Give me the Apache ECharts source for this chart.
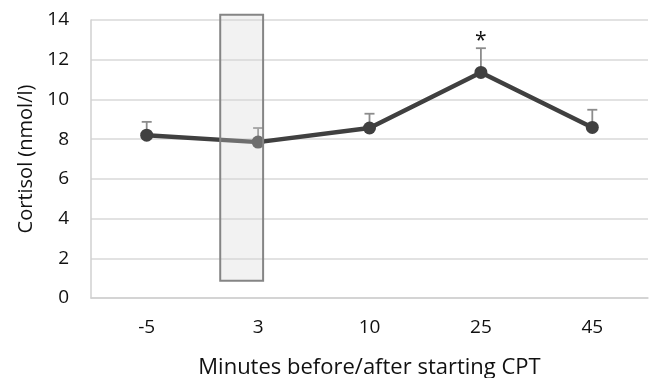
<!DOCTYPE html>
<html>
<head>
<meta charset="utf-8">
<script src="https://cdn.jsdelivr.net/npm/echarts@6/dist/echarts.min.js"></script>
<style>html,body{margin:0;padding:0;background:#fff;}#c{width:649px;height:378px;}</style>
</head>
<body>
<div id="c"></div>
<script>
const categories = ['-5', '3', '10', '25', '45'];
const cortisolMean = [8.2, 7.85, 8.56, 11.36, 8.59];
const cortisolErrTop = [8.87, 8.56, 9.28, 12.58, 9.48];
const sigMarks = ['', '', '', '*', ''];
const yTicks = { min: 0, max: 14, interval: 2 };
// shaded CPT window: [xStart, xEnd] in category band units, [yBottom, yTop] in nmol/l
const cptWindow = [[1.16, 1.545, 0.87, 14.27]];

const font = 'Open Sans';
const chart = echarts.init(document.getElementById('c'));
chart.setOption({
  animation: false,
  grid: { left: 91, right: 1, top: 20, bottom: 80, containLabel: false, outerBoundsMode: 'none' },
  xAxis: [{
    type: 'category', data: categories, boundaryGap: true,
    name: 'Minutes before/after starting CPT', nameLocation: 'middle', nameGap: 59,
    nameTextStyle: { fontFamily: font, fontSize: 22, color: '#111' },
    axisLine: { lineStyle: { color: '#d0d0d0', width: 1.5 } },
    axisTick: { show: false },
    axisLabel: { fontFamily: font, fontSize: 19, color: '#111', margin: 20 }
  }, {
    type: 'value', min: 0, max: 5, show: false
  }],
  yAxis: {
    type: 'value', min: yTicks.min, max: yTicks.max, interval: yTicks.interval,
    name: 'Cortisol (nmol/l)', nameLocation: 'middle', nameGap: 54,
    nameTextStyle: { fontFamily: font, fontSize: 20, color: '#111' },
    axisLine: { show: true, lineStyle: { color: '#d0d0d0', width: 1.5 } },
    axisTick: { show: false },
    splitLine: { lineStyle: { color: '#d9d9d9', width: 1.5 } },
    axisLabel: { fontFamily: font, fontSize: 19, color: '#111', margin: 22 }
  },
  series: [{
    type: 'custom', z: 1,
    data: cortisolMean.map((m, i) => [i, m, cortisolErrTop[i]]),
    renderItem: function (params, api) {
      const i = api.value(0);
      const p0 = api.coord([i, api.value(1)]);
      const p1 = api.coord([i, api.value(2)]);
      const children = [
        { type: 'line', shape: { x1: p0[0], y1: p0[1], x2: p1[0], y2: p1[1] }, style: { stroke: '#8c8c8c', lineWidth: 1.8 } },
        { type: 'line', shape: { x1: p1[0] - 5, y1: p1[1], x2: p1[0] + 5, y2: p1[1] }, style: { stroke: '#8c8c8c', lineWidth: 1.8 } }
      ];
      const s = sigMarks[i];
      if (s) {
        children.push({ type: 'text', style: { text: s, x: p1[0], y: p1[1] - 7, align: 'center', verticalAlign: 'middle', fontSize: 21, fontFamily: font, fill: '#111' } });
      }
      return { type: 'group', children: children };
    }
  }, {
    type: 'line', z: 2, data: cortisolMean,
    symbol: 'circle', symbolSize: 13,
    lineStyle: { color: '#404040', width: 4.5 },
    itemStyle: { color: '#404040' }
  }, {
    type: 'custom', z: 5, xAxisIndex: 1,
    data: cptWindow,
    renderItem: function (params, api) {
      const a = api.coord([api.value(0), api.value(3)]);
      const b = api.coord([api.value(1), api.value(2)]);
      return { type: 'rect', shape: { x: a[0], y: a[1], width: b[0] - a[0], height: b[1] - a[1] },
        style: { fill: 'rgba(213,213,213,0.31)', stroke: '#858585', lineWidth: 2 } };
    }
  }]
});
</script>
</body>
</html>
